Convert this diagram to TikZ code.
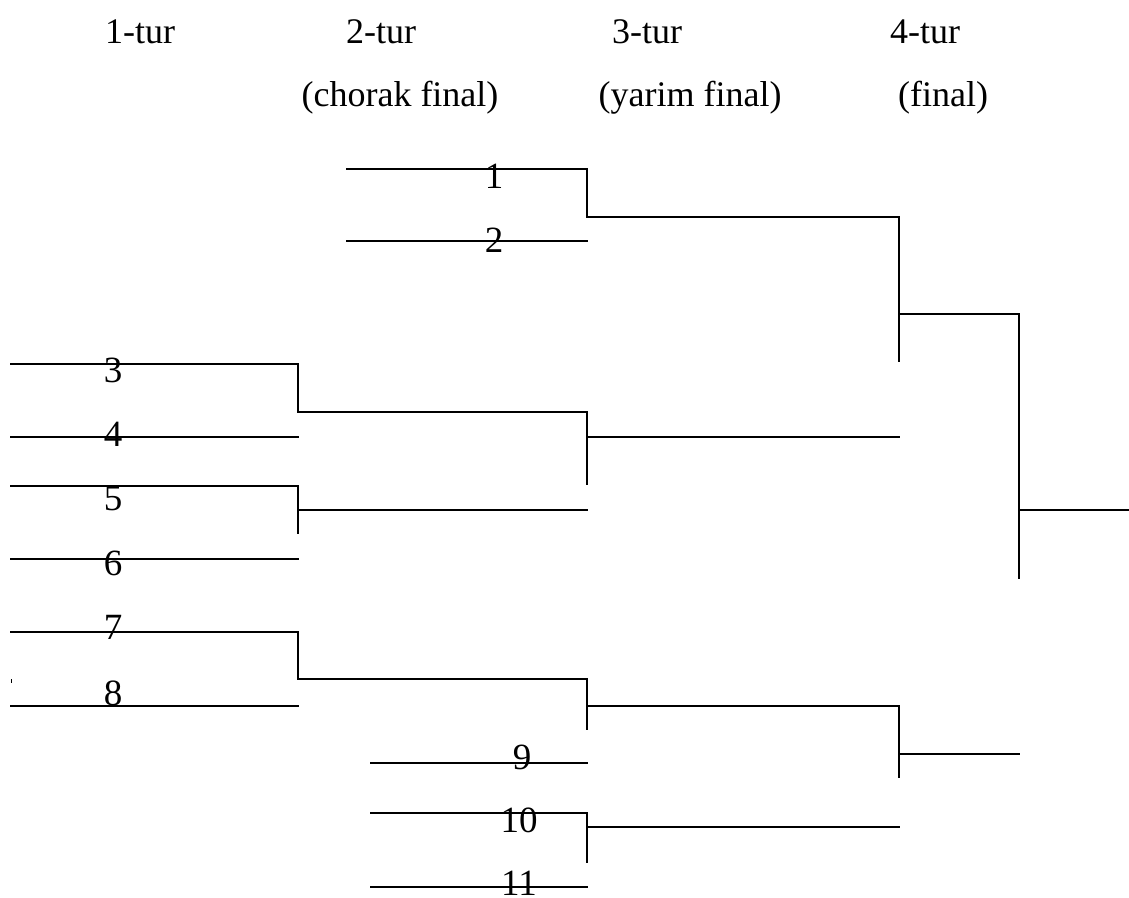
\documentclass[tikz,border=0pt]{standalone}
\usepackage{fontspec}
\setmainfont{Liberation Serif}
\begin{document}
\begin{tikzpicture}[x=1pt,y=-1pt,
  wire/.style={line width=1.9pt, line cap=rect},
  hdr/.style={anchor=base, inner sep=0pt, font=\fontsize{36}{40}\selectfont},
  num/.style={anchor=base, inner sep=0pt, font=\fontsize{37}{40}\selectfont}]
\useasboundingbox (0,0) rectangle (1129,897);
% headers
\node[hdr] (h1) at (140,43) {1-tur};
\node[hdr] (h2) at (381,43) {2-tur};
\node[hdr] (h3) at (647,43) {3-tur};
\node[hdr] (h4) at (925,43) {4-tur};
\node[hdr] (s2) at (400,106) {(chorak final)};
\node[hdr] (s3) at (690,106) {(yarim final)};
\node[hdr] (s4) at (943,106) {(final)};
% coordinates
\coordinate (a1) at (347,169); \coordinate (b1) at (587,169);
\coordinate (a2) at (347,241); \coordinate (b2) at (587,241);
\coordinate (m12) at (587,217);
\coordinate (a3) at (11,364); \coordinate (b3) at (298,364);
\coordinate (a4) at (11,437); \coordinate (b4) at (298,437);
\coordinate (m34) at (298,412);
\coordinate (a5) at (11,486); \coordinate (b5) at (298,486);
\coordinate (a6) at (11,559); \coordinate (b6) at (298,559);
\coordinate (m56) at (298,510); \coordinate (v56) at (298,533);
\coordinate (a7) at (11,632); \coordinate (b7) at (298,632);
\coordinate (a8) at (11,706); \coordinate (b8) at (298,706);
\coordinate (m78) at (298,679);
\coordinate (a9) at (371,763); \coordinate (b9) at (587,763);
\coordinate (a10) at (371,813); \coordinate (b10) at (587,813);
\coordinate (a11) at (371,887); \coordinate (b11) at (587,887);
\coordinate (v1011) at (587,862); \coordinate (m1011) at (587,827);
\coordinate (sA) at (587,412); \coordinate (sAe) at (587,484); \coordinate (sAm) at (587,437);
\coordinate (sA5) at (587,510);
\coordinate (sB) at (587,679); \coordinate (sBe) at (587,729); \coordinate (sBm) at (587,706);
\coordinate (f1t) at (899,217); \coordinate (f1m) at (899,314); \coordinate (f1b) at (899,361);
\coordinate (fAm) at (899,437);
\coordinate (f2t) at (899,706); \coordinate (f2m) at (899,754); \coordinate (f2b) at (899,777);
\coordinate (fB) at (899,827);
\coordinate (gt) at (1019,314); \coordinate (gm) at (1019,510); \coordinate (gb) at (1019,578);
\coordinate (g2) at (1019,754);
\coordinate (win) at (1129,510);
\coordinate (tk1) at (11,679); \coordinate (tk2) at (11,683);
% lines
\draw[wire] (a1) -- (b1) -- (m12) -- (f1t);
\draw[wire] (a2) -- (b2);
\draw[wire] (a3) -- (b3) -- (m34) -- (sA);
\draw[wire] (a4) -- (b4);
\draw[wire] (a5) -- (b5) -- (v56);
\draw[wire] (m56) -- (sA5);
\draw[wire] (a6) -- (b6);
\draw[wire] (a7) -- (b7) -- (m78) -- (sB);
\draw[wire] (a8) -- (b8);
\draw[wire] (sA) -- (sAe);
\draw[wire] (sAm) -- (fAm);
\draw[wire] (sB) -- (sBe);
\draw[wire] (sBm) -- (f2t);
\draw[wire] (a9) -- (b9);
\draw[wire] (a10) -- (b10) -- (v1011);
\draw[wire] (a11) -- (b11);
\draw[wire] (m1011) -- (fB);
\draw[wire] (f1t) -- (f1b);
\draw[wire] (f1m) -- (gt) -- (gb);
\draw[wire] (gm) -- (win);
\draw[wire] (f2t) -- (f2b);
\draw[wire] (f2m) -- (g2);
\draw[line width=1pt] (tk1) -- (tk2);
% labels
\node[num] (n1) at (494,188) {1};
\node[num] (n2) at (494,252) {2};
\node[num] (n3) at (113,382) {3};
\node[num] (n4) at (113,446) {4};
\node[num] (n5) at (113,510) {5};
\node[num] (n6) at (113,575) {6};
\node[num] (n7) at (113,639) {7};
\node[num] (n8) at (113,705) {8};
\node[num] (n9) at (522,769) {9};
\node[num] (n10) at (519,832) {10};
\node[num] (n11) at (519,895) {11};
\end{tikzpicture}
\end{document}
